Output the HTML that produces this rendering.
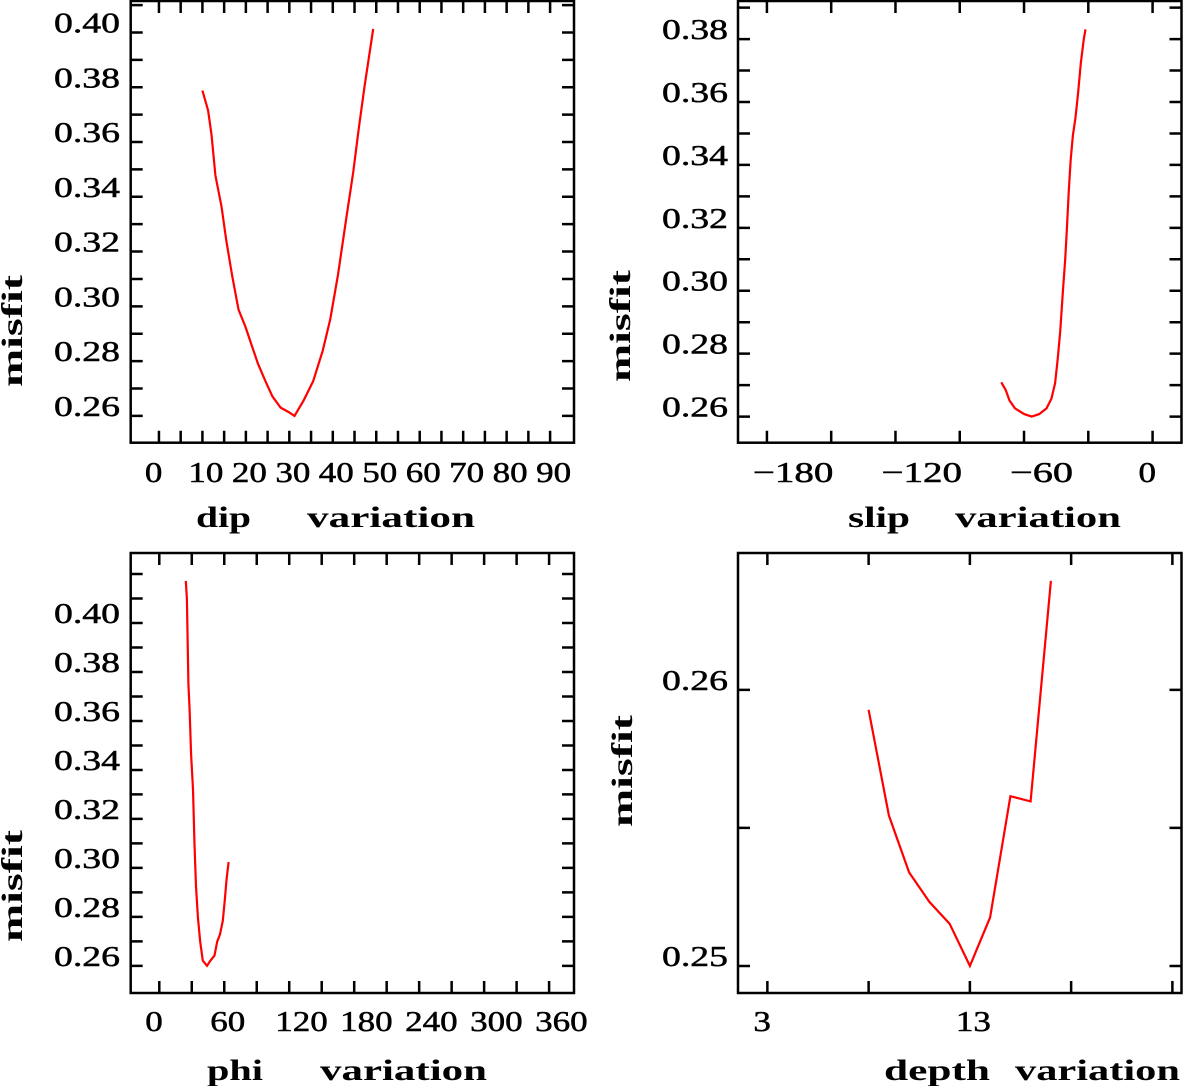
<!DOCTYPE html>
<html><head><meta charset="utf-8"><style>
html,body{margin:0;padding:0;background:#fff;}
svg{display:block;}
text{font-family:"Liberation Serif",serif;fill:#000;}
</style></head><body>
<svg id="chart" width="1183" height="1086" viewBox="0 0 1183 1086" xmlns="http://www.w3.org/2000/svg"></svg>
<script>
// ---- data ----
const dipX = [10,11.3,12.1,13.0,14.4,15.5,16.8,18.3,19.9,21.2,22.8,24.5,26.1,28.0,29.8,31.2,33.3,35.5,37.7,39.4,41.2,42.9,44.7,46.0,47.3,49.3];
const dipY = [0.3788,0.3715,0.3627,0.3478,0.3365,0.324,0.3115,0.2988,0.2926,0.2864,0.279,0.2727,0.2671,0.263,0.2614,0.26,0.2657,0.2727,0.2839,0.2952,0.3115,0.33,0.3489,0.3653,0.3802,0.4013];
const slipX = [-70.6,-68.5,-66.8,-64.2,-59.9,-56.4,-52.9,-49.5,-47.2,-45.5,-44.3,-43.1,-41.7,-40.8,-40.0,-39.1,-38.2,-37.2,-36.0,-34.8,-33.5,-32.1,-31.3];
const slipY = [0.2709,0.2684,0.2651,0.2626,0.2608,0.26,0.2608,0.2626,0.2657,0.2706,0.2783,0.287,0.3012,0.31,0.3198,0.3319,0.3417,0.3494,0.3548,0.3625,0.3723,0.38,0.3831];
const phiX = [24.5,25.5,26.2,26.9,28.0,29.4,31.1,32.5,33.9,35.7,37.8,40.2,44.1,47.2,51.0,53.5,56.0,58.7,60.5,62.2,64.0];
const phiY = [0.4172,0.4099,0.3915,0.3752,0.3647,0.3463,0.3321,0.3095,0.2925,0.2798,0.2699,0.2621,0.26,0.2621,0.2642,0.2699,0.2727,0.2784,0.2869,0.2954,0.3024];
const depthX = [8,9,10,11,12,13,14,15,16,17];
const depthY = [0.25928,0.25545,0.25339,0.25232,0.25153,0.25,0.25176,0.25615,0.25596,0.26395];
const dipTicks = [0,10,20,30,40,50,60,70,80,90];
const slipTicks = [-180,-120,-60,0];
const phiTicks = [0,60,120,180,240,300,360];
const depthTicks = [3,13];
const yTicksA = [0.26,0.28,0.30,0.32,0.34,0.36,0.38,0.40];
const yTicksB = [0.26,0.28,0.30,0.32,0.34,0.36,0.38];
const yTicksD = [0.25,0.26];

const svg = document.getElementById('chart');
const NS = 'http://www.w3.org/2000/svg';
function mk(tag, attrs, parent){const e=document.createElementNS(NS,tag);for(const k in attrs)e.setAttribute(k,attrs[k]);(parent||svg).appendChild(e);return e;}

function panel(p){
  const g = mk('g',{});
  
  
  const sx = v => p.L + (v - p.x0) / (p.x1 - p.x0) * (p.R - p.L);
  const sy = v => p.B - (v - p.y0) / (p.y1 - p.y0) * (p.B - p.T);
  let d = '';
  for (let i = 0; ; i++) {
    const v = p.xMinorStart + i * p.xMinor;
    const x = sx(v);
    if (x > p.R - 6) break;
    if (x < p.L + 6) continue;
    d += `M${x},${p.B}v-12M${x},${p.T}v12`;
  }
  for (let i = 0; ; i++) {
    const v = p.yMinorStart + i * p.yMinor;
    const y = sy(v);
    if (y < p.T + 3) break;
    if (y > p.B - 3) continue;
    d += `M${p.L},${y}h12M${p.R},${y}h-12`;
  }
  const ticks = mk('path',{d:d,stroke:'#000','stroke-width':2.5,fill:'none'},g);
  
  
  const frame = mk('rect',{x:p.L,y:p.T,width:p.R-p.L,height:p.B-p.T,fill:'none',stroke:'#000','stroke-width':2.5},g);
  
  
  p.xTicks.forEach(v => {
    const s = v < 0 ? '\u2212' + Math.abs(v) : String(v);
    const w = String(Math.abs(v)).length * 17.5 + (v < 0 ? 28 : 0);
    const t = mk('text',{x:sx(v)-14,y:p.xLabY,'font-size':29,textLength:w,lengthAdjust:'spacingAndGlyphs',stroke:'#000','stroke-width':0.5},g);
    t.textContent = s;
    
    
  });
  p.yTicks.forEach(v => {
    const t = mk('text',{x:p.yLabR-66,y:sy(v),'font-size':29,textLength:66,lengthAdjust:'spacingAndGlyphs',stroke:'#000','stroke-width':0.5},g);
    t.textContent = v.toFixed(p.yDec);
    
    
  });
  p.titles.forEach(tt => {
    const t = mk('text',{x:tt[1],y:p.titleY,'font-size':30,'font-weight':'bold',textLength:tt[2],lengthAdjust:'spacingAndGlyphs'},g);
    t.textContent = tt[0];
    
    
  });
  const yt = mk('text',{x:0,y:0,'font-size':30,'font-weight':'bold',textLength:112,lengthAdjust:'spacingAndGlyphs','text-anchor':'middle',transform:`translate(${p.misX},${p.misY}) rotate(-90)`},g);
  yt.textContent = 'misfit';
  
  
  const pts = p.xs.map((x,i)=>sx(x).toFixed(1)+','+sy(p.ys[i]).toFixed(1)).join(' ');
  const line = mk('polyline',{points:pts,fill:'none',stroke:'#ff0000','stroke-width':2.2},g);
  
  
}

panel({name:'dip-panel',L:130.7,R:574,T:1,B:442.7,x0:-6.5,x1:95.5,y0:0.2502,y1:0.4115,
  xMinorStart:0,xMinor:5,yMinorStart:0.26,yMinor:0.01,xTicks:dipTicks,yTicks:yTicksA,yDec:2,
  xLabY:482,yLabR:120,titleY:527,titles:[['dip',196,55],['variation',307,168]],misX:22,misY:331,xs:dipX,ys:dipY});
panel({name:'slip-panel',L:738,R:1181.5,T:1,B:442.7,x0:-193.5,x1:13.5,y0:0.2517,y1:0.3921,
  xMinorStart:-180,xMinor:30,yMinorStart:0.26,yMinor:0.01,xTicks:slipTicks,yTicks:yTicksB,yDec:2,
  xLabY:482,yLabR:728,titleY:527,titles:[['slip',848,62],['variation',955,166]],misX:630,misY:326,xs:slipX,ys:slipY});
panel({name:'phi-panel',L:130.7,R:574,T:553,B:993,x0:-26.4,x1:383,y0:0.2489,y1:0.4286,
  xMinorStart:0,xMinor:30,yMinorStart:0.26,yMinor:0.01,xTicks:phiTicks,yTicks:yTicksA,yDec:2,
  xLabY:1031,yLabR:120,titleY:1080,titles:[['phi',207,56],['variation',320,167]],misX:22,misY:886,xs:phiX,ys:phiY});
panel({name:'depth-panel',L:738,R:1181.5,T:553,B:993,x0:1.55,x1:23.45,y0:0.24902,y1:0.26496,
  xMinorStart:3,xMinor:5,yMinorStart:0.25,yMinor:0.005,xTicks:depthTicks,yTicks:yTicksD,yDec:2,
  xLabY:1031,yLabR:728,titleY:1080,titles:[['depth',884,106],['variation',1015,165]],misX:632,misY:771,xs:depthX,ys:depthY});
</script>
</body></html>
